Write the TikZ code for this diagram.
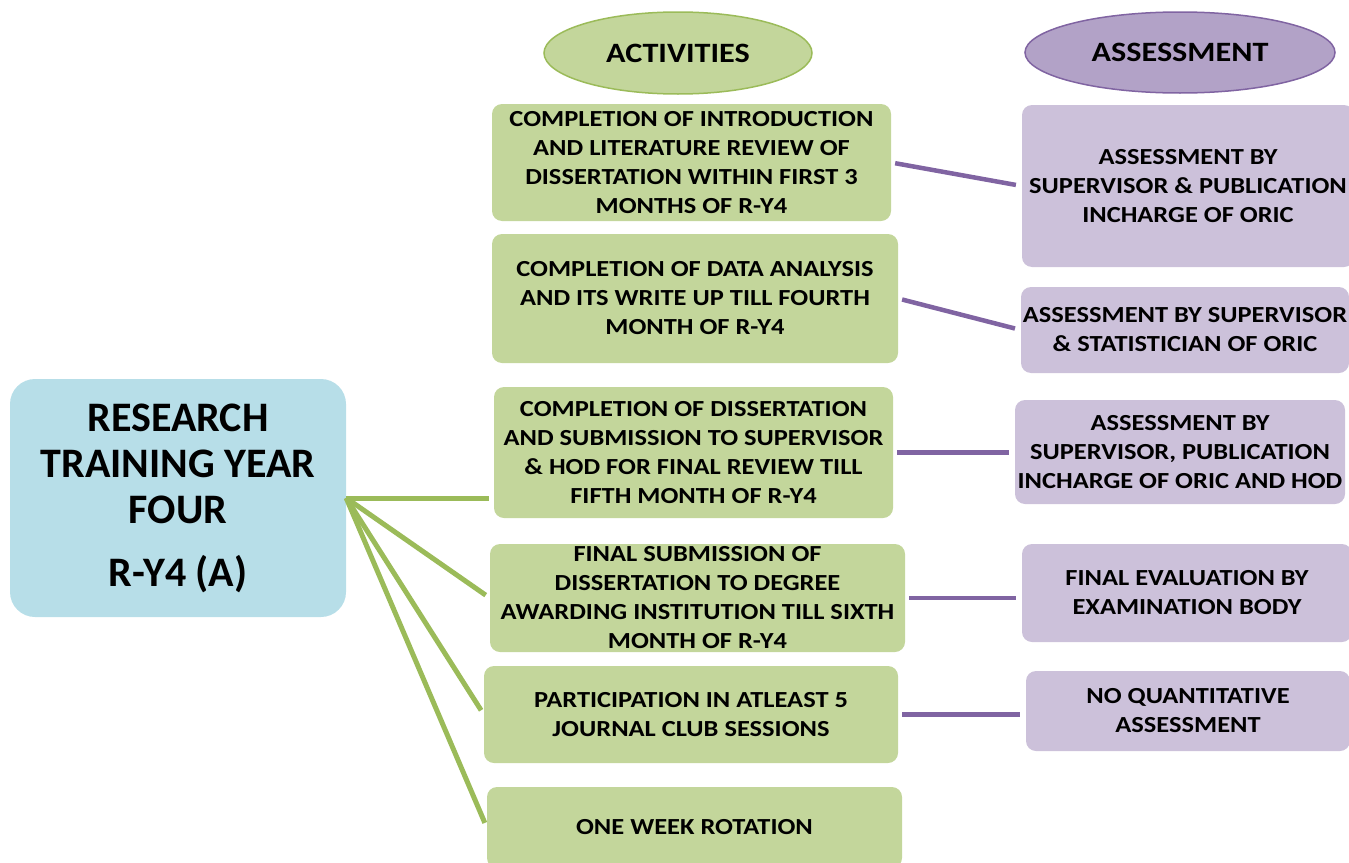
\documentclass[tikz,border=0pt]{standalone}
\usepackage{fontspec}
\setmainfont{Carlito}
\newfontfamily\widecarlito{Carlito}[FakeStretch=1.15]
\usetikzlibrary{shapes.geometric}
\definecolor{actfill}{HTML}{C3D69B}
\definecolor{actline}{HTML}{9BBB59}
\definecolor{assfill}{HTML}{CCC1DA}
\definecolor{asshead}{HTML}{B2A2C7}
\definecolor{assline}{HTML}{8064A2}
\definecolor{rootfill}{HTML}{B7DEE8}
\tikzset{
  actbox/.style={rectangle, rounded corners=10pt, fill=actfill, inner sep=0pt,
    align=center, font=\widecarlito\fontsize{23}{29}\selectfont\bfseries},
  assbox/.style={rectangle, rounded corners=10pt, fill=assfill, inner sep=0pt,
    align=center, font=\widecarlito\fontsize{23}{29}\selectfont\bfseries},
  rootbox/.style={rectangle, rounded corners=25pt, fill=rootfill, inner sep=0pt,
    align=center, font=\fontsize{42}{46}\selectfont\bfseries},
  headoval/.style={ellipse, inner sep=0pt, line width=1.5pt,
    font=\widecarlito\fontsize{28}{32}\selectfont\bfseries},
  actlink/.style={draw=actline, line width=5pt, shorten >=5pt},
  asslink/.style={draw=assline, line width=4.5pt, shorten >=6pt, shorten <=4pt},
}
\begin{document}
\begin{tikzpicture}[x=1pt, y=-1pt]
\useasboundingbox (0,0) rectangle (1349,862);
\clip (0,0) rectangle (1349,862);

% column headers
\node[headoval, fill=actfill, draw=actline, minimum width=268pt, minimum height=82pt]
  (acthead) at (678,53) {ACTIVITIES};
\node[headoval, fill=asshead, draw=assline, minimum width=310pt, minimum height=81pt]
  (asshd) at (1180,52.5) {ASSESSMENT};

% central topic
\node[rootbox, minimum width=336pt, minimum height=238pt] (root) at (178,498)
  {RESEARCH\\TRAINING YEAR\\FOUR\\[17pt]R-Y4 (A)};

% activities
\node[actbox, minimum width=399pt, minimum height=117pt] (b1) at (691.5,162.5)
  {COMPLETION OF INTRODUCTION\\AND LITERATURE REVIEW OF\\DISSERTATION WITHIN FIRST 3\\MONTHS OF R-Y4};
\node[actbox, minimum width=406pt, minimum height=129pt] (b2) at (695,298.5)
  {COMPLETION OF DATA ANALYSIS\\AND ITS WRITE UP TILL FOURTH\\MONTH OF R-Y4};
\node[actbox, minimum width=399pt, minimum height=131pt] (b3) at (693.5,452.5)
  {COMPLETION OF DISSERTATION\\AND SUBMISSION TO SUPERVISOR\\\& HOD FOR FINAL REVIEW TILL\\FIFTH MONTH OF R-Y4};
\node[actbox, minimum width=415pt, minimum height=108pt] (b4) at (697.5,598)
  {FINAL SUBMISSION OF\\DISSERTATION TO DEGREE\\AWARDING INSTITUTION TILL SIXTH\\MONTH OF R-Y4};
\node[actbox, minimum width=414pt, minimum height=97pt] (b5) at (691,714.5)
  {PARTICIPATION IN ATLEAST 5\\JOURNAL CLUB SESSIONS};
\node[actbox, minimum width=415pt, minimum height=81pt] (b6) at (694.5,827.5)
  {ONE WEEK ROTATION};

% assessments
\node[assbox, minimum width=332pt, minimum height=162pt] (p1) at (1188,186)
  {ASSESSMENT BY\\SUPERVISOR \& PUBLICATION\\INCHARGE OF ORIC};
\node[assbox, minimum width=328pt, minimum height=86pt] (p2) at (1185,330)
  {ASSESSMENT BY SUPERVISOR\\\& STATISTICIAN OF ORIC};
\node[assbox, minimum width=330pt, minimum height=104pt] (p3) at (1180,452)
  {ASSESSMENT BY\\SUPERVISOR, PUBLICATION\\INCHARGE OF ORIC AND HOD};
\node[assbox, minimum width=330pt, minimum height=98pt] (p4) at (1187,593)
  {FINAL EVALUATION BY\\EXAMINATION BODY};
\node[assbox, minimum width=324pt, minimum height=80pt] (p5) at (1188,711)
  {NO QUANTITATIVE\\ASSESSMENT};

% links from the central topic to the activities
\draw[actlink] (root.east) -- (root.east -| b3.west);
\draw[actlink] (root.east) -- (b4.west);
\draw[actlink] (root.east) -- (b5.west);
\draw[actlink] (root.east) -- (b6.west);

% links from activities to assessments
\draw[asslink] (b1.east) -- (p1.west);
\draw[asslink] (b2.east) -- (p2.west);
\draw[asslink] (b3.east) -- (b3.east -| p3.west);
\draw[asslink] (b4.east) -- (b4.east -| p4.west);
\draw[asslink] (b5.east) -- (b5.east -| p5.west);
\end{tikzpicture}
\end{document}
